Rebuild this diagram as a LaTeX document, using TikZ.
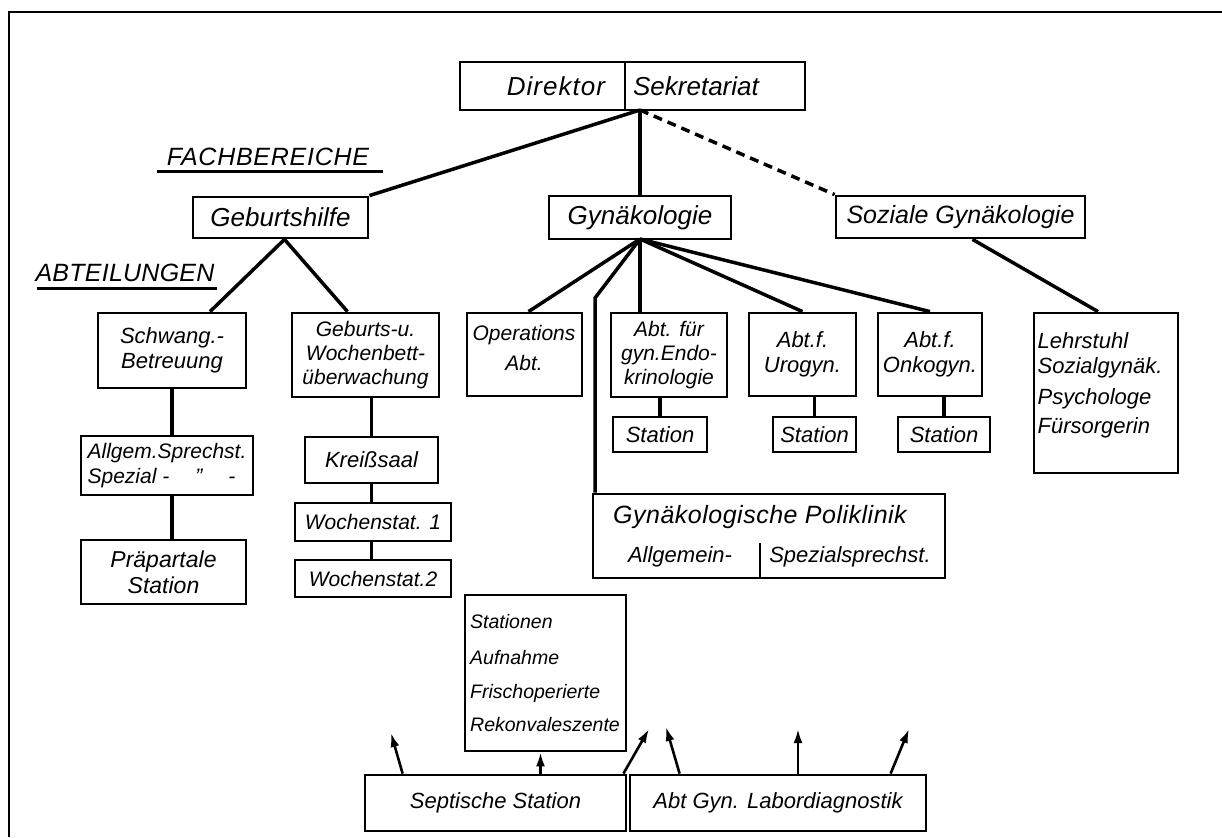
\documentclass[tikz,border=0pt]{standalone}
\usepackage{fontspec}
\setmainfont{Liberation Sans}
\usetikzlibrary{calc,arrows.meta}
\begin{document}
\begin{tikzpicture}[x=1pt,y=-1pt,
  box/.style={draw, line width=2.8pt, inner sep=0pt, align=center, font=\itshape\fontsize{22}{25}\selectfont},
  hdr/.style={box, font=\itshape\fontsize{26}{28}\selectfont},
  lbl/.style={inner sep=0pt, align=center, font=\itshape\fontsize{22}{25}\selectfont},
  hlbl/.style={inner sep=0pt, font=\itshape\fontsize{26}{28}\selectfont},
  conn/.style={line width=3.5pt},
  dconn/.style={line width=3.5pt, dash pattern=on 12pt off 7pt},
  arr/.style={line width=2.6pt, -{Latex[length=14pt,width=9pt]}},
]
\useasboundingbox (0,0) rectangle (1222,837);
\fill[white] (0,0) rectangle (1222,837);
\draw[line width=2.5pt] (9,837) -- (9,12) -- (1222,12);

% top
\node[box, minimum width=165, minimum height=48] (dir) at (542.5,86) {};
\node[box, minimum width=180, minimum height=48] (sek) at (715,86) {};
\node[hlbl, font=\itshape\fontsize{26}{28}\selectfont\addfontfeature{LetterSpace=4}] (dirt) at (556,86) {Direktor};
\node[hlbl] (sekt) at (696,86) {Sekretariat};

% section labels
\node[hlbl, font=\itshape\fontsize{25}{28}\selectfont\addfontfeature{LetterSpace=3}] (fach) at (268,157) {FACHBEREICHE};
\draw[line width=3pt] (157,172) -- (383,172);
\node[hlbl, font=\itshape\fontsize{25}{28}\selectfont\addfontfeature{LetterSpace=1}] (abt) at (125,273) {ABTEILUNGEN};
\draw[line width=3pt] (37,288) -- (217,288);

% level 1
\node[hdr, minimum width=175, minimum height=41] (geb) at (280.5,217.5) {Geburtshilfe};
\node[hdr, minimum width=182, minimum height=43] (gyn) at (640,217.5) {Gynäkologie};
\node[hdr, minimum width=249, minimum height=42, font=\itshape\fontsize{25}{28}\selectfont] (soz) at (960.5,217) {Soziale Gynäkologie};

% Geburtshilfe branch
\node[box, minimum width=148, minimum height=75] (schw) at (172,350.5) {Schwang.-\\Betreuung};
\node[box, minimum width=147, minimum height=84, font=\itshape\fontsize{21}{24}\selectfont] (gebu) at (365.5,355) {Geburts-u.\\Wochenbett-\\überwachung};
\node[box, minimum width=172, minimum height=59, align=left, font=\itshape\fontsize{21}{25}\selectfont] (allg) at (167,465.5) {Allgem.Sprechst.\\Spezial -\hspace{26pt}\char"22\hspace{26pt}-\hspace{10pt}};
\node[box, minimum width=165, minimum height=64, font=\itshape\fontsize{23}{26}\selectfont] (prae) at (163.5,572) {Präpartale\\Station};
\node[box, minimum width=133, minimum height=46] (kreis) at (371.5,460) {Kreißsaal};
\node[box, minimum width=156, minimum height=38, font=\itshape\fontsize{21}{25}\selectfont] (w1) at (373,522) {Wochenstat. 1};
\node[box, minimum width=156, minimum height=37, font=\itshape\fontsize{21}{25}\selectfont] (w2) at (373,578.5) {Wochenstat.2};

% Gynaekologie branch
\node[box, minimum width=115, minimum height=83] (ops) at (524.5,354.5) {};
\node[lbl, font=\itshape\fontsize{21}{30}\selectfont] (opst) at (524,348) {Operations\\Abt.};
\node[box, minimum width=116, minimum height=84, font=\itshape\fontsize{21}{24}\selectfont] (endo) at (669,355) {Abt. für\\gyn.Endo-\\krinologie};
\node[box, minimum width=94, minimum height=35] (endost) at (660,434.5) {Station};
\node[box, minimum width=107, minimum height=83] (uro) at (802.5,354.5) {Abt.f.\\Urogyn.};
\node[box, minimum width=83, minimum height=35] (urost) at (814.5,434.5) {Station};
\node[box, minimum width=104, minimum height=83] (onk) at (930,354.5) {Abt.f.\\Onkogyn.};
\node[box, minimum width=92, minimum height=35] (onkst) at (944,434.5) {Station};
\node[box, minimum width=144, minimum height=160] (lehr) at (1106,393) {};
\node[lbl, align=left] (lehrt) at (1100,385) {Lehrstuhl\\Sozialgynäk.\\[6pt]Psychologe\\[4pt]Fürsorgerin};

\node[box, minimum width=352, minimum height=84] (polik) at (769,536) {};
\node[hlbl, font=\itshape\fontsize{25}{28}\selectfont\addfontfeature{LetterSpace=2}] (polt) at (760,517) {Gynäkologische Poliklinik};
\node[lbl] (polall) at (680,557) {Allgemein-};
\node[lbl] (polsp) at (850,557) {Spezialsprechst.};
\draw[line width=2.8pt] (760,543) -- (760,578);

\node[box, minimum width=161, minimum height=156] (stat) at (545.5,673) {};
\node[lbl, align=left, font=\itshape\fontsize{19.5}{24}\selectfont] (statt) at (545,673) {Stationen\\[12pt]Aufnahme\\[10pt]Frischoperierte\\[9pt]Rekonvaleszente};

\node[box, minimum width=261, minimum height=56] (sept) at (495.5,803) {Septische Station};
\node[box, minimum width=296, minimum height=56] (labor) at (778,803) {Abt Gyn. Labordiagnostik};

% connectors
\coordinate (hub1) at (640,110);
\coordinate (hub2) at (640,239);
\draw[conn] (hub1) -- (geb.north east);
\draw[conn] (hub1) -- (gyn.north);
\draw[line width=3.5pt, dash pattern=on 9pt off 6pt] (hub1) -- (soz.north west);

\coordinate (hub3) at ($(geb.south)+(4,0)$);
\draw[conn] (hub3) -- ($(schw.north)+(38,0)$);
\draw[conn] (hub3) -- ($(gebu.north)+(-18,0)$);
\draw[conn] (schw.south) -- (schw.south |- allg.north);
\draw[conn] (schw.south |- allg.south) -- (schw.south |- prae.north);
\draw[conn] (kreis.north |- gebu.south) -- (kreis.north);
\draw[conn] (kreis.south) -- (kreis.south |- w1.north);
\draw[conn] (kreis.south |- w1.south) -- (kreis.south |- w2.north);

\coordinate (bend) at (595,298);
\draw[conn] (hub2) -- ($(ops.north)+(4,0)$);
\draw[conn] (hub2) -- (bend) -- (bend |- polik.north);
\draw[conn] (hub2) -- (hub2 |- endo.north);
\draw[conn] (hub2) -- (uro.north);
\draw[conn] (hub2) -- (onk.north);
\draw[conn] ($(ops.south)+(-3,0)$) -- ($(ops.south)+(-3,0)$ |- stat.north);
\draw[conn] (endost.north |- endo.south) -- (endost.north);
\draw[conn] (urost.north |- uro.south) -- (urost.north);
\draw[conn] (onkst.north |- onk.south) -- (onkst.north);
\draw[dconn] ($(endo.south east)+(-10,0)$) -- ($(endo.south east)+(-10,0)$ |- polik.north);
\draw[dconn] ($(uro.south west)+(12,0)$) -- ($(uro.south west)+(12,0)$ |- polik.north);
\draw[dconn] ($(onk.south west)+(8,0)$) -- ($(onk.south west)+(8,0)$ |- polik.north);
\draw[conn] ($(soz.south)+(12,0)$) -- ($(lehr.north)+(-8,0)$);

% arrows
\coordinate (a1) at (391,733);
\coordinate (a3) at (649,729);
\coordinate (a4) at (666,727);
\coordinate (a5) at (798,729);
\coordinate (a6) at (909,729);
\draw[arr] ($(sept.north west)+(39,0)$) -- (a1);
\draw[arr] ($(stat.south |- sept.north)+(-5,0)$) -- ($(stat.south)+(-5,0)$);
\draw[arr] ($(sept.north east)+(-4,0)$) -- (a3);
\draw[arr] ($(labor.north west)+(51,0)$) -- (a4);
\draw[arr] (a5 |- labor.north) -- (a5);
\draw[arr] ($(labor.north west)+(262,0)$) -- (a6);
\end{tikzpicture}
\end{document}
